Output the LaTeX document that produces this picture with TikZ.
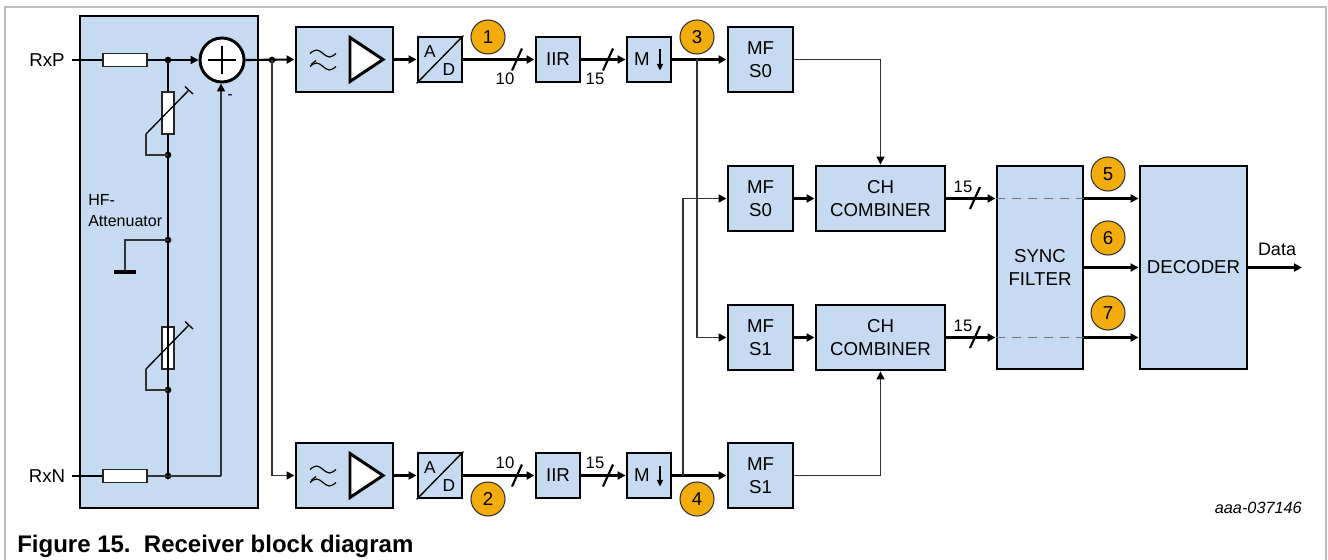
\documentclass[tikz,border=0pt]{standalone}
\usepackage{fontspec}
\setmainfont{Liberation Sans}
\usetikzlibrary{arrows.meta,calc}
\definecolor{boxblue}{HTML}{C6DAF1}
\definecolor{badgeor}{HTML}{F2AC0C}
\definecolor{framegray}{HTML}{BDBDBD}
\begin{document}
\begin{tikzpicture}[x=0.75pt,y=-0.75pt,
  blk/.style={draw=black, fill=boxblue, line width=2.2pt, inner sep=0pt, align=center, font=\fontsize{14}{17}\selectfont},
  res/.style={draw=black!85, fill=white, line width=1.2pt, inner sep=0pt},
  wire/.style={line width=1.6pt},
  thinw/.style={line width=1.1pt, draw=black!80},
  arr/.style={-{Triangle[length=6pt,width=6pt,color=black]}},
  jdot/.style={circle, fill=black, inner sep=0pt, minimum size=5pt},
  badge/.style={circle, draw=black!80, fill=badgeor, line width=0.8pt, minimum size=25.5pt, inner sep=0pt, font=\fontsize{14}{16}\selectfont},
  lbl/.style={font=\fontsize{14}{16}\selectfont, inner sep=0pt},
  small/.style={font=\fontsize{12.5}{14}\selectfont, inner sep=0pt}
]
\useasboundingbox (0,0) rectangle (1328,560);
% frame
\draw[framegray, line width=1.5pt] (5,560) -- (5,7) -- (1326,7) -- (1326,560);

% HF attenuator block
\node[blk, minimum width=133.5pt, minimum height=369pt] (hf) at (169,262) {};
\node[font=\fontsize{12}{16}\selectfont, align=left, anchor=north west, inner sep=0pt] (hftxt) at (88,194) {HF-\\Attenuator};

\node[lbl] (rxp) at (47,60) {RxP};
\node[lbl] (rxn) at (47,476) {RxN};
\coordinate (inp) at (72,60);
\coordinate (inn) at (72,476);
\node[res, minimum width=33pt, minimum height=9.75pt] (rp) at (125,60) {};
\node[res, minimum width=33pt, minimum height=9.75pt] (rn) at (125,476) {};
\node[res, minimum width=9pt, minimum height=31.5pt] (vr1) at (168,113) {};
\node[res, minimum width=9pt, minimum height=31.5pt] (vr2) at (168,348) {};
\node[circle, draw=black, fill=white, line width=2.2pt, minimum size=33pt, inner sep=0pt] (sum) at (222,60) {};
\draw[line width=1.5pt] ($(sum.center)+(-14,0)$) -- ($(sum.center)+(14,0)$);
\draw[line width=1.5pt] ($(sum.center)+(0,-14)$) -- ($(sum.center)+(0,14)$);
\node[font=\fontsize{12}{14}\selectfont, inner sep=0pt] (minus) at (230,97) {-};

\node[jdot] (j1) at (168,60) {};
\node[jdot] (j2) at (168,155) {};
\node[jdot] (j3) at (168,240) {};
\node[jdot] (j4) at (168,390) {};
\node[jdot] (j5) at (168,476) {};
\node[jdot] (j6) at (272,60) {};

\draw[wire] (inp) -- (rp.west);
\draw[wire,arr] (rp.east) -- (sum.west);
\draw[wire] (inn) -- (rn.west);
\draw[thinw] (rn.east) -- (j5.center) -- (221,476) coordinate (ret);
\draw[thinw,arr] (ret) -- (sum.south -| ret);
\draw[wire] (j1.center) -- (vr1.north);
\draw[wire] (vr1.south) -- (j2.center) -- (j3.center) -- (j4.center) -- (vr2.north);
\draw[wire] (vr2.south) -- (j4.center);
\draw[wire] (j4.center) -- (j5.center);
% variable resistor wipers
\draw[line width=1pt] (146,134) -- (189,90);
\draw[line width=1pt] (185,86.5) -- (193,94);
\draw[thinw] (146,134) -- (146,155) -- (j2.center);
\draw[line width=1pt] (146,369) -- (189,325);
\draw[line width=1pt] (185,321.5) -- (193,329);
\draw[thinw] (146,369) -- (146,390) -- (j4.center);
% ground
\draw[thinw] (j3.center) -- (125,240) -- (125,272) coordinate (gnd);
\draw[line width=3pt] ($(gnd)+(-11,0)$) -- ($(gnd)+(11,0)$);

% amplifiers
\foreach \n/\y in {1/59.5, 2/475.5}{
  \node[blk, minimum width=72.75pt, minimum height=48.75pt] (amp\n) at (344.5,\y) {};
  \draw[fill=white, line width=2.2pt] (350,\y-22) -- (350,\y+22) -- (383,\y) -- cycle;
  \draw[line width=0.9pt] (310,\y-6) sin (316.5,\y-9.5) cos (323,\y-6) sin (329.5,\y-2.5) cos (336,\y-6);
  \draw[line width=0.9pt] (310,\y+7) sin (316.5,\y+3.5) cos (323,\y+7) sin (329.5,\y+10.5) cos (336,\y+7);
  \draw[line width=0.9pt] (311,\y+5) -- (316,\y+1);
  \node[blk, minimum width=33pt, minimum height=33.75pt] (ad\n) at (440,\y) {};
  \draw[line width=1pt] (ad\n.south west) -- (ad\n.north east);
  \node[font=\fontsize{13}{15}\selectfont, inner sep=0pt] (adA\n) at (430,\y-8) {A};
  \node[font=\fontsize{13}{15}\selectfont, inner sep=0pt] (adD\n) at (449,\y+10) {D};
  \node[blk, minimum width=33pt, minimum height=33.75pt] (iir\n) at (558,\y) {IIR};
  \node[blk, minimum width=33pt, minimum height=33.75pt] (m\n) at (649,\y) {};
  \node[lbl] (mt\n) at (642,\y) {M};
  \draw[line width=1pt, -{Triangle[length=5pt,width=4.5pt]}] (660,\y-10) -- (660,\y+11);
  \draw[wire,arr] (amp\n.east) -- (ad\n.west);
  \draw[wire,arr] (ad\n.east) -- (iir\n.west);
  \draw[wire,arr] (iir\n.east) -- (m\n.west);
  \draw[wire] (512,\y+11) -- (522,\y-11);
  \draw[wire] (603,\y+11) -- (613,\y-11);
}
\node[small] (n10a) at (505,79) {10};
\node[small] (n15a) at (595,79) {15};
\node[small] (n10b) at (505,463) {10};
\node[small] (n15b) at (595,463) {15};

\draw[wire,arr] (sum.east) -- (amp1.west);
\draw[thinw,arr] (j6.center) |- (amp2.west);

% MF blocks
\node[blk, minimum width=48.75pt, minimum height=48.75pt] (mfa) at (760.5,59.5) {MF\\S0};
\node[blk, minimum width=48.75pt, minimum height=48.75pt] (mf0) at (760.5,198.5) {MF\\S0};
\node[blk, minimum width=48.75pt, minimum height=48.75pt] (mf1) at (760.5,337.5) {MF\\S1};
\node[blk, minimum width=48.75pt, minimum height=48.75pt] (mfb) at (760.5,475.5) {MF\\S1};
\node[blk, minimum width=96.75pt, minimum height=48.75pt] (ch0) at (880.5,198.5) {CH\\COMBINER};
\node[blk, minimum width=96.75pt, minimum height=48.75pt] (ch1) at (880.5,337.5) {CH\\COMBINER};
\node[blk, minimum width=64.5pt, minimum height=152.25pt] (sync) at (1040,267.5) {SYNC\\FILTER};
\node[blk, minimum width=80.25pt, minimum height=152.25pt] (dec) at (1193.5,267.5) {DECODER};

\draw[wire,arr] (m1.east) -- (mfa.west);
\draw[wire,arr] (m2.east) -- (mfb.west);
\coordinate (b3) at (697,59.5);
\coordinate (b4) at (683,475.5);
\draw[thinw,arr] (b3) |- (mf1.west);
\draw[thinw,arr] (b4) |- (mf0.west);
\draw[thinw,arr] (mfa.east) -| (ch0.north);
\draw[thinw,arr] (mfb.east) -| (ch1.south);
\draw[wire,arr] (mf0.east) -- (ch0.west);
\draw[wire,arr] (mf1.east) -- (ch1.west);
\draw[wire,arr] (ch0.east) -- (ch0.east -| sync.west);
\draw[wire,arr] (ch1.east) -- (ch1.east -| sync.west);
\draw[wire] (970,209) -- (980,187);
\draw[wire] (970,348) -- (980,326);
\node[small] (n15c) at (963,187) {15};
\node[small] (n15d) at (963,326) {15};
\draw[black!55, line width=1pt, dash pattern=on 7pt off 5pt] (ch0.east -| sync.west) -- (ch0.east -| sync.east);
\draw[black!55, line width=1pt, dash pattern=on 7pt off 5pt] (ch1.east -| sync.west) -- (ch1.east -| sync.east);
\draw[wire,arr] (ch0.east -| sync.east) -- (ch0.east -| dec.west);
\draw[wire,arr] (sync.east) -- (dec.west);
\draw[wire,arr] (ch1.east -| sync.east) -- (ch1.east -| dec.west);
\coordinate (dout) at (1302,267.5);
\draw[wire,arr] (dec.east) -- (dout);
\node[font=\fontsize{13.5}{16}\selectfont, inner sep=0pt] (data) at (1277,249) {Data};

% badges
\node[badge] (b1) at (488,37) {1};
\node[badge] (bb2) at (488,499) {2};
\node[badge] (bb3) at (697,37) {3};
\node[badge] (bb4) at (697,499) {4};
\node[badge] (b5) at (1108,174) {5};
\node[badge] (b6) at (1108,238) {6};
\node[badge] (b7) at (1108,313) {7};

\node[font=\fontsize{12.2}{14}\selectfont\itshape, anchor=base east, inner sep=0pt] (docid) at (1302,513) {aaa-037146};
\node[font=\fontsize{18}{20}\selectfont\bfseries, anchor=base west, inner sep=0pt] (cap) at (17,552) {Figure 15.\ \ Receiver block diagram};
\end{tikzpicture}
\end{document}
